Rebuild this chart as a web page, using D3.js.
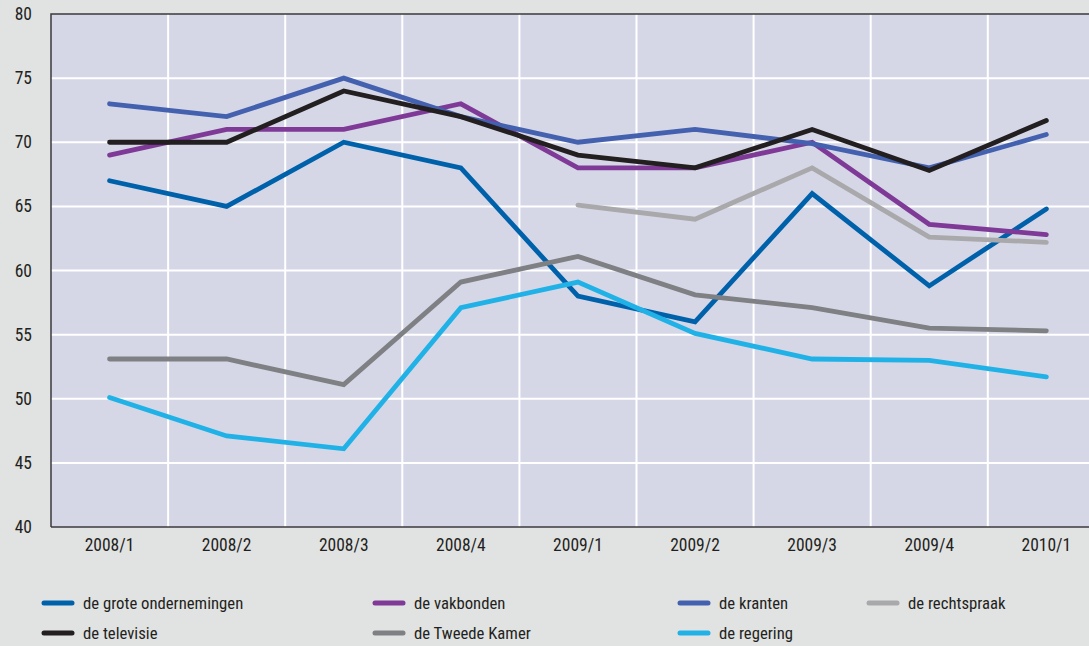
<!DOCTYPE html>
<html>
<head>
<meta charset="utf-8">
<script src="https://cdn.jsdelivr.net/npm/d3@7"></script>
<style>
  body { margin: 0; background: #e1e2e2; }
  svg { display: block; }
  .tick text { fill: #231f20; }
</style>
</head>
<body>
<svg id="chart" width="1089" height="646"></svg>
<script>
// categories and values
var periods = ["2008/1", "2008/2", "2008/3", "2008/4", "2009/1", "2009/2", "2009/3", "2009/4", "2010/1"];
var yTicks = [40, 45, 50, 55, 60, 65, 70, 75, 80];

var groteOndernemingen = [67, 65, 70, 68, 58, 56, 66, 58.8, 64.8];
var vakbonden = [69, 71, 71, 73, 68, 68, 70, 63.6, 62.8];
var kranten = [73, 72, 75, 72, 70, 71, 69.9, 68, 70.6];
var rechtspraak = [null, null, null, null, 65.1, 64, 68, 62.6, 62.2];
var televisie = [70, 70, 74, 72, 69, 68, 71, 67.8, 71.7];
var tweedeKamer = [53.1, 53.1, 51.1, 59.1, 61.1, 58.1, 57.1, 55.5, 55.3];
var regering = [50.1, 47.1, 46.1, 57.1, 59.1, 55.1, 53.1, 53, 51.7];

var series = [
  {name: "de grote ondernemingen", color: "#0061ab", values: groteOndernemingen},
  {name: "de vakbonden", color: "#7f3a97", values: vakbonden},
  {name: "de kranten", color: "#4461b0", values: kranten},
  {name: "de rechtspraak", color: "#a9a9ab", values: rechtspraak},
  {name: "de televisie", color: "#231f20", values: televisie},
  {name: "de Tweede Kamer", color: "#7f8083", values: tweedeKamer},
  {name: "de regering", color: "#20b2e7", values: regering}
];

var font = "'Liberation Sans Narrow', 'Roboto Condensed', 'Arial Narrow', sans-serif";

var svg = d3.select("#chart");
var margin = {top: 14, left: 51, bottom: 119};
var height = 646 - margin.top - margin.bottom;
var bandW = 117.1;

var x = d3.scaleBand()
  .domain(periods)
  .range([margin.left, margin.left + bandW * periods.length]);

var y = d3.scaleLinear()
  .domain([40, 80])
  .range([margin.top + height, margin.top]);

// plot background
svg.append("rect")
  .attr("x", margin.left)
  .attr("y", margin.top)
  .attr("width", 1089 - margin.left)
  .attr("height", height)
  .attr("fill", "#d5d7e6");

// grid
var grid = svg.append("g");
grid.selectAll("line.h")
  .data(yTicks.slice(1, -1))
  .enter().append("line")
  .attr("x1", margin.left).attr("x2", 1089)
  .attr("y1", function(d) { return y(d); })
  .attr("y2", function(d) { return y(d); })
  .attr("stroke", "#fff").attr("stroke-width", 2);

grid.selectAll("line.v")
  .data(periods.slice(1))
  .enter().append("line")
  .attr("x1", function(d) { return x(d); })
  .attr("x2", function(d) { return x(d); })
  .attr("y1", margin.top).attr("y2", margin.top + height)
  .attr("stroke", "#fff").attr("stroke-width", 2);

// frame: top and left, bottom
svg.append("path")
  .attr("d", "M" + margin.left + "," + (margin.top + height) + "V" + margin.top + "H1089")
  .attr("fill", "none").attr("stroke", "#3a3a3c").attr("stroke-width", 1.5);
svg.append("line")
  .attr("x1", margin.left).attr("x2", 1089)
  .attr("y1", margin.top + height).attr("y2", margin.top + height)
  .attr("stroke", "#3a3a3c").attr("stroke-width", 1.5);

// axes
var yAxis = svg.append("g")
  .attr("transform", "translate(" + margin.left + ",0)")
  .call(d3.axisLeft(y).tickValues(yTicks).tickSize(0).tickPadding(19));
yAxis.select(".domain").remove();
yAxis.selectAll("text")
  .style("font-family", font).style("font-size", "17.5px");

var xAxis = svg.append("g")
  .attr("transform", "translate(0," + (margin.top + height) + ")")
  .call(d3.axisBottom(x).tickSize(0).tickPadding(12));
xAxis.select(".domain").remove();
xAxis.selectAll("text")
  .style("font-family", font).style("font-size", "17.5px");

// lines
var line = d3.line()
  .defined(function(d) { return d != null; })
  .x(function(d, i) { return x(periods[i]) + x.bandwidth() / 2; })
  .y(function(d) { return y(d); });

svg.append("g").selectAll("path")
  .data(series)
  .enter().append("path")
  .attr("d", function(s) { return line(s.values); })
  .attr("fill", "none")
  .attr("stroke", function(s) { return s.color; })
  .attr("stroke-width", 4.8)
  .attr("stroke-linecap", "round")
  .attr("stroke-linejoin", "miter");

// legend
var legendCols = [42, 373, 678, 867];
var legendRows = [603, 633];
var legend = svg.append("g").selectAll("g")
  .data(series)
  .enter().append("g")
  .attr("transform", function(s, i) {
    return "translate(" + legendCols[i % 4] + "," + legendRows[Math.floor(i / 4)] + ")";
  });
legend.append("line")
  .attr("x1", 2).attr("x2", 30)
  .attr("stroke", function(s) { return s.color; })
  .attr("stroke-width", 5).attr("stroke-linecap", "round");
legend.append("text")
  .attr("x", 41).attr("dy", "0.35em")
  .style("font-family", font).style("font-size", "16.7px")
  .attr("fill", "#231f20")
  .text(function(s) { return s.name; });
</script>
</body>
</html>
